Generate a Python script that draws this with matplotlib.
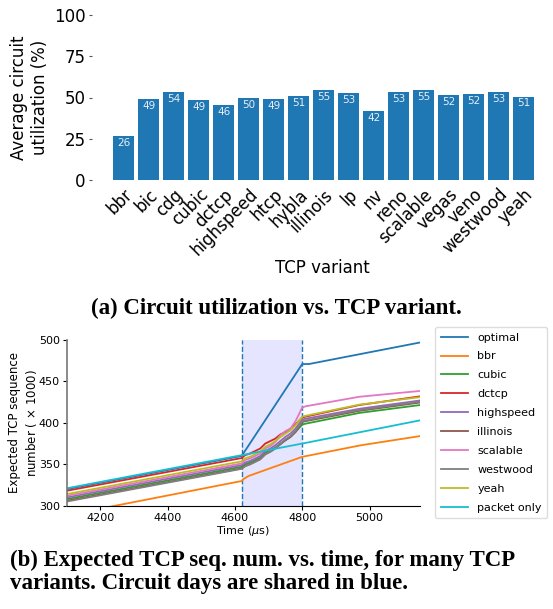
import matplotlib
matplotlib.use("Agg")
import matplotlib.pyplot as plt

plt.rcParams['font.family'] = ['DejaVu Sans']
plt.rcParams['mathtext.fontset'] = 'dejavusans'

# ---------------- data: (a) ----------------
variants = ["bbr", "bic", "cdg", "cubic", "dctcp", "highspeed", "htcp", "hybla",
            "illinois", "lp", "nv", "reno", "scalable", "vegas", "veno",
            "westwood", "yeah"]
utilization = [26.4, 49.2, 53.6, 48.6, 45.6, 49.8, 49.2, 51.0, 54.6, 52.8,
               42.0, 53.4, 54.6, 51.6, 52.2, 53.4, 50.6]
yticks_a = [0, 25, 50, 75, 100]

# ---------------- data: (b) ----------------
t_opt = [4100, 4620, 4800, 4820, 5150]
optimal = [320, 360, 471, 471, 497]

t_bbr = [4100, 4620, 4625, 4640, 4800, 4975, 5150]
bbr = [288.5, 329.8, 332, 335.8, 359, 373, 384]

t_var = [4100, 4620, 4630, 4645, 4660, 4675, 4690, 4705, 4720, 4735, 4750,
         4765, 4780, 4800, 4810, 4970, 5150]
cubic = [308, 347, 350, 352, 355, 358, 364, 367, 370, 375, 379, 383, 389,
         398, 399, 412, 421.5]
dctcp = [318, 357.5, 361, 363, 366, 369, 375, 378, 381, 386, 389, 393, 398,
         406.5, 407.5, 421.5, 432]
highspeed = [310, 349, 352, 354, 357, 360, 366, 369, 373, 378, 383, 387, 393,
             404, 405, 417, 427]
illinois = [306, 345, 348, 350, 353, 356, 362, 365, 369, 374, 379, 383, 389,
            401, 402, 414.5, 424.5]
scalable = [312, 351, 355, 357, 360, 363, 369, 372, 377, 385, 390, 393, 402,
            418.5, 420, 431.5, 438.5]
westwood = [305, 344.5, 347.5, 350, 353, 356, 362, 365.5, 369.5, 374.5, 380,
            384, 390, 402, 403, 415.5, 425.5]
yeah = [314, 353.5, 357, 359, 362, 365, 371, 374, 378, 383, 387, 391, 397,
        407.5, 408.5, 422, 431]

t_pkt = [4100, 4620, 4800, 5150]
packet_only = [321, 361, 375, 403]

circuit_start, circuit_end = 4620, 4800
xticks_b = [4200, 4400, 4600, 4800, 5000]
yticks_b = [300, 350, 400, 450, 500]

# ---------------- figure ----------------
fig = plt.figure(figsize=(5.53, 6.09), dpi=100)

# (a) bar chart
ax1 = fig.add_axes([92/553, 1-180/609, 1-92/553, (180-15)/609])
xs = list(range(len(variants)))
ax1.bar(xs, utilization, width=0.84, color='#1f77b4')
for x, v in zip(xs, utilization):
    ax1.text(x, v - 1.2, f"{round(v):d}", ha='center', va='top',
             fontsize=7.5, color='#e8eef6')
ax1.set_xlim(-1.27, 17.17)
ax1.set_ylim(0, 100)
ax1.set_yticks(yticks_a)
ax1.set_xticks(xs)
ax1.set_xticklabels(variants, rotation=45, ha='right', rotation_mode='anchor')
for s in ax1.spines.values():
    s.set_visible(False)
ax1.tick_params(axis='y', labelsize=12, length=2.5, width=0.8, color='#555555', pad=2)
ax1.tick_params(axis='x', labelsize=12, length=0, pad=4)
ax1.set_ylabel("Average circuit\nutilization (%)", fontsize=12, labelpad=4)
ax1.set_xlabel("TCP variant", fontsize=12, labelpad=0)

fig.text(0.5, 1-308/609, "(a) Circuit utilization vs. TCP variant.",
         ha='center', va='center', fontsize=16.5, fontweight='bold',
         family='Liberation Serif')

# (b) line chart
ax2 = fig.add_axes([66.7/553, 1-505.7/609, (420-66.7)/553, (505.7-340)/609])
ax2.axvspan(circuit_start, circuit_end, color='blue', alpha=0.1, lw=0)
ax2.axvline(circuit_start, color='#1f77b4', ls='--', lw=1)
ax2.axvline(circuit_end, color='#1f77b4', ls='--', lw=1)
ax2.plot(t_opt, optimal, color='C0', lw=1.3, label='optimal')
ax2.plot(t_bbr, bbr, color='C1', lw=1.3, label='bbr')
ax2.plot(t_var, cubic, color='C2', lw=1.3, label='cubic')
ax2.plot(t_var, dctcp, color='C3', lw=1.3, label='dctcp')
ax2.plot(t_var, highspeed, color='C4', lw=1.3, label='highspeed')
ax2.plot(t_var, illinois, color='C5', lw=1.3, label='illinois')
ax2.plot(t_var, scalable, color='C6', lw=1.3, label='scalable')
ax2.plot(t_var, westwood, color='C7', lw=1.3, label='westwood')
ax2.plot(t_var, yeah, color='C8', lw=1.3, label='yeah')
ax2.plot(t_pkt, packet_only, color='C9', lw=1.3, label='packet only')
ax2.set_xlim(4100, 5150)
ax2.set_ylim(300, 500)
ax2.set_xticks(xticks_b)
ax2.set_yticks(yticks_b)
ax2.spines['top'].set_visible(False)
ax2.spines['right'].set_visible(False)
ax2.spines['left'].set_color('#777777')
ax2.spines['left'].set_linewidth(1.2)
ax2.tick_params(labelsize=8, length=3, width=0.8, pad=2)
ax2.set_xlabel(r"Time ($\mu$s)", fontsize=8, labelpad=1)
ax2.set_ylabel("Expected TCP sequence\nnumber ($\\,\\times\\,$1000)", fontsize=8.5, labelpad=0)
ax2.legend(loc='upper left', bbox_to_anchor=(435/553, 1-327/609),
           bbox_transform=fig.transFigure, borderaxespad=0, fontsize=8,
           labelspacing=0.8, handlelength=2.5, handletextpad=0.8,
           borderpad=0.5, frameon=True, framealpha=1, edgecolor='#dddddd')

fig.text(10/553, 1-560/609, "(b) Expected TCP seq. num. vs. time, for many TCP",
         ha='left', va='center', fontsize=16.5, fontweight='bold',
         family='Liberation Serif')
fig.text(10/553, 1-584/609, "variants. Circuit days are shared in blue.",
         ha='left', va='center', fontsize=16.5, fontweight='bold',
         family='Liberation Serif')

fig.savefig("out.png", dpi=100)
